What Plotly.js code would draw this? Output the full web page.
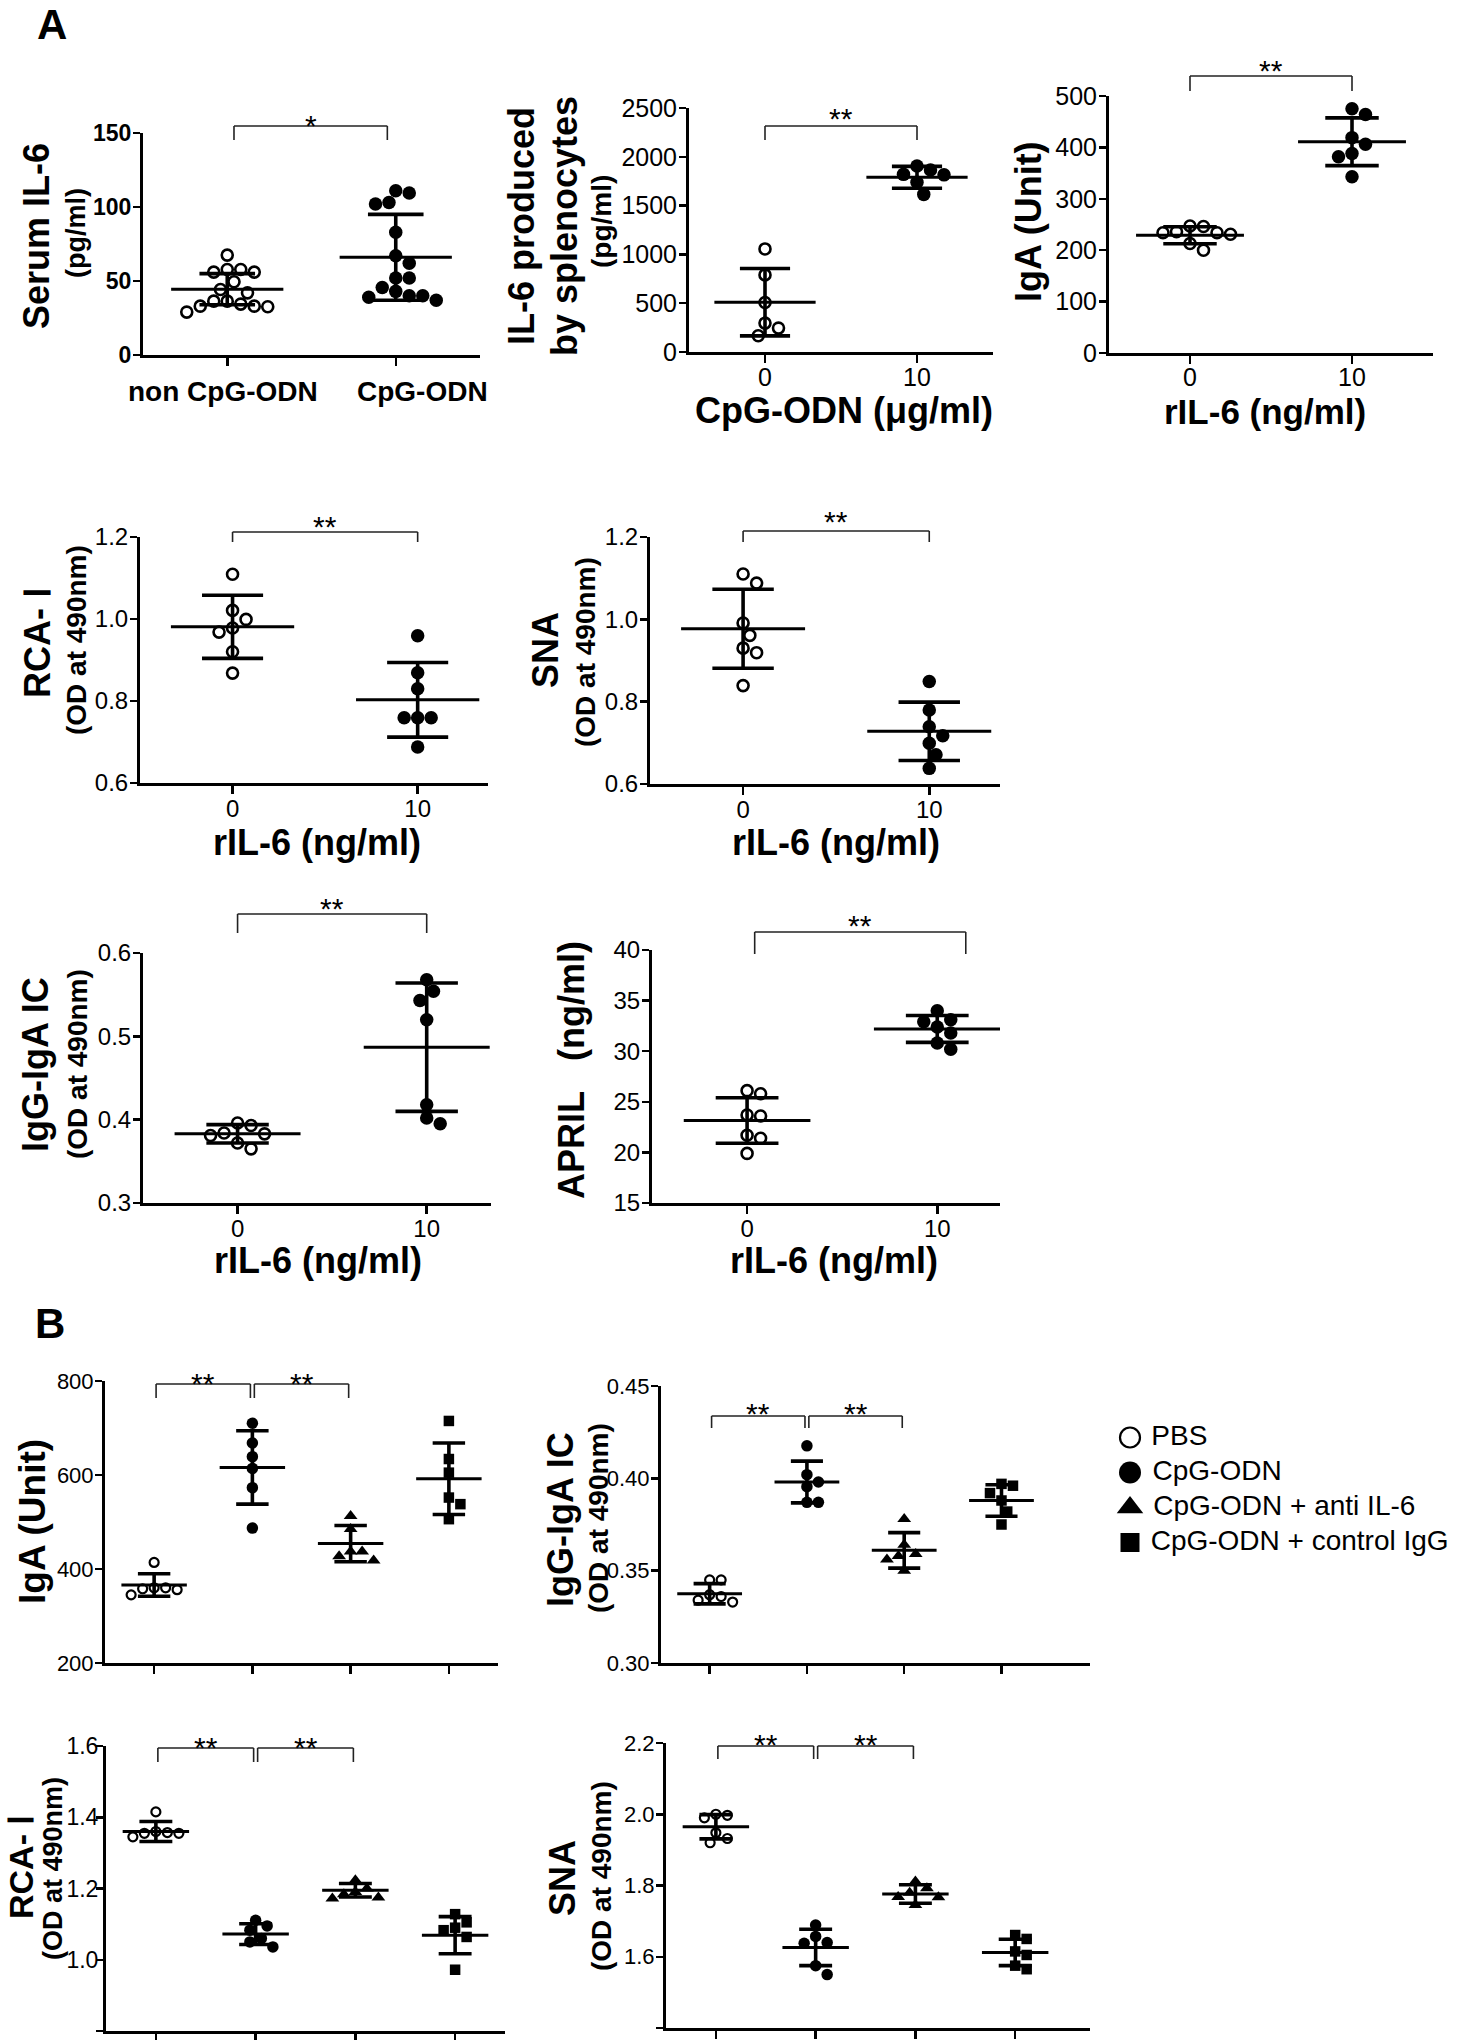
<!DOCTYPE html>
<html>
<head>
<meta charset="utf-8">
<script src="https://cdn.plot.ly/plotly-3.0.1.min.js"></script>
<style>html,body{margin:0;padding:0;background:#fff;}</style>
</head>
<body>
<div id="chart" style="width:1463px;height:2040px;"></div>
<script>
// ================= DATA =================
// Panel A1: Serum IL-6 (pg/ml)
const serumCats = ['non CpG-ODN', 'CpG-ODN'];
const serumNonCpG = [67.5, 57.8, 56, 56, 57.8, 49.5, 44.3, 42, 36.4, 34.4, 33, 29, 32.6, 33, 36.4];
const serumCpG = [109.5, 111, 102, 103, 83, 67, 62, 52, 52, 43, 45.6, 40, 37, 39, 40];
const serumMean = [44.5, 66];
const serumSD = [10.5, 29];
const serumBrackets = [[0, 1, '*']];

// Panel A2: IL-6 produced by splenocytes (pg/ml)
const cpgDoseCats = ['0', '10'];
const splenIL6_0 = [1056, 790, 507, 296, 245, 167];
const splenIL6_10 = [1905, 1865, 1820, 1815, 1740, 1615];
const splenMean = [510, 1790];
const splenSD = [345, 112];
const splenBrackets = [[0, 1, '**']];

// Panel A3: IgA (Unit)
const rilCats = ['0', '10'];
const igaA_0 = [247, 246, 234, 231, 236, 234, 213, 200];
const igaA_10 = [475, 464, 419, 406, 388, 382, 343];
const igaAMean = [229, 411];
const igaASD = [16.5, 46.5];
const igaABrackets = [[0, 1, '**']];

// Panel A4: RCA-I (OD at 490nm)
const rcaA_0 = [1.109, 1.021, 0.999, 0.978, 0.968, 0.920, 0.868];
const rcaA_10 = [0.959, 0.869, 0.830, 0.759, 0.759, 0.759, 0.688];
const rcaAMean = [0.981, 0.803];
const rcaASD = [0.077, 0.091];
const rcaABrackets = [[0, 1, '**']];

// Panel A5: SNA (OD at 490nm)
const snaA_0 = [1.110, 1.088, 0.991, 0.961, 0.930, 0.919, 0.839];
const snaA_10 = [0.849, 0.780, 0.739, 0.717, 0.699, 0.671, 0.638];
const snaAMean = [0.977, 0.728];
const snaASD = [0.096, 0.071];
const snaABrackets = [[0, 1, '**']];

// Panel A6: IgG-IgA IC (OD at 490nm)
const icA_0 = [0.393, 0.396, 0.381, 0.384, 0.383, 0.372, 0.365];
const icA_10 = [0.568, 0.554, 0.543, 0.520, 0.418, 0.402, 0.395];
const icAMean = [0.383, 0.487];
const icASD = [0.011, 0.077];
const icABrackets = [[0, 1, '**']];

// Panel A7: APRIL (ng/ml)
const april_0 = [26.1, 25.8, 23.6, 23.7, 21.7, 21.4, 19.9];
const april_10 = [34.0, 32.9, 33.1, 31.8, 32.4, 30.8, 30.2];
const aprilMean = [23.15, 32.2];
const aprilSD = [2.25, 1.33];
const aprilBrackets = [[0, 1, '**']];

// Panel B groups
const groupNames = ['PBS', 'CpG-ODN', 'CpG-ODN + anti IL-6', 'CpG-ODN + control IgG'];
const bBrackets = [[0, 1, '**'], [1, 2, '**']];

// B1: IgA (Unit)
const bIgaPBS = [414, 360, 358, 345, 356, 360];
const bIgaCpG = [710, 668, 639, 614, 573, 487];
const bIgaAnti = [513, 485, 437, 418, 427, 437];
const bIgaCtrl = [715, 634, 605, 552, 538, 506];
const bIgaMean = [366, 616, 454, 592];
const bIgaSD = [24, 78, 38.5, 76];

// B2: IgG-IgA IC (OD at 490nm)
const bIcPBS = [0.345, 0.345, 0.337, 0.333, 0.334, 0.336];
const bIcCpG = [0.4176, 0.402, 0.398, 0.3955, 0.387, 0.387];
const bIcAnti = [0.378, 0.364, 0.358, 0.359, 0.356, 0.350];
const bIcCtrl = [0.396, 0.397, 0.392, 0.388, 0.382, 0.375];
const bIcMean = [0.3375, 0.398, 0.361, 0.388];
const bIcSD = [0.0055, 0.0113, 0.0096, 0.0085];

// B3: RCA-I (OD at 490nm)
const bRcaPBS = [1.415, 1.360, 1.355, 1.345, 1.355, 1.357];
const bRcaCpG = [1.111, 1.095, 1.083, 1.060, 1.050, 1.036];
const bRcaAnti = [1.223, 1.200, 1.190, 1.184, 1.172, 1.175];
const bRcaCtrl = [1.128, 1.105, 1.090, 1.083, 1.064, 0.972];
const bRcaMean = [1.360, 1.072, 1.195, 1.069];
const bRcaSD = [0.028, 0.029, 0.019, 0.052];

// B4: SNA (OD at 490nm)
const bSnaPBS = [1.997, 2.000, 1.990, 1.948, 1.932, 1.920];
const bSnaCpG = [1.689, 1.657, 1.640, 1.638, 1.575, 1.550];
const bSnaAnti = [1.811, 1.792, 1.767, 1.768, 1.780, 1.745];
const bSnaCtrl = [1.661, 1.605, 1.615, 1.575, 1.565, 1.650];
const bSnaMean = [1.965, 1.626, 1.776, 1.612];
const bSnaSD = [0.034, 0.051, 0.026, 0.037];

// ================= STYLE / LAYOUT =================
const W = 1463, H = 2040;
const FONT = 'Liberation Sans, Arial, Helvetica, sans-serif';
const fx = px => px / W;
const fy = py => 1 - py / H;

const sym2 = ['circle-open', 'circle'];
const sym4 = ['circle-open', 'circle', 'triangle-up', 'square'];

const panels = [
  {box:[143,480,133,355], xr:[-0.5,1.5], yr:[0,150], dtick:50, fmt:'', cats:serumCats,
   groups:[serumNonCpG, serumCpG], mean:serumMean, sd:serumSD, br:serumBrackets, brPx:[126,140,125], brAdj:[0.04,-0.05],
   ytf:{size:23, weight:'bold'}, xtf:{size:28, weight:'bold'}, xstand:0, ystand:-3, big:true, syms:sym2,
   catAnnot:{yPx:392, shift:[-4, 27]}},
  {box:[689,993,108,352], xr:[-0.5,1.5], yr:[0,2500], dtick:500, fmt:'', cats:cpgDoseCats,
   groups:[splenIL6_0, splenIL6_10], mean:splenMean, sd:splenSD, br:splenBrackets, brPx:[126,140,118], brAdj:[0,0],
   ytf:{size:25}, xtf:{size:25}, xstand:-7, ystand:-3, big:true, syms:sym2},
  {box:[1109,1433,96,353], xr:[-0.5,1.5], yr:[0,500], dtick:100, fmt:'', cats:rilCats,
   groups:[igaA_0, igaA_10], mean:igaAMean, sd:igaASD, br:igaABrackets, brPx:[76,91,71], brAdj:[0,0],
   ytf:{size:25}, xtf:{size:25}, xstand:-8, ystand:-3, big:true, syms:sym2},
  {box:[140,488,537,783], xr:[-0.5,1.38], yr:[0.6,1.2], dtick:0.2, fmt:'.1f', cats:rilCats,
   groups:[rcaA_0, rcaA_10], mean:rcaAMean, sd:rcaASD, br:rcaABrackets, brPx:[532,542,526], brAdj:[0,0],
   ytf:{size:24}, xtf:{size:24}, xstand:-6, ystand:-3, big:true, syms:sym2},
  {box:[650,1000,537,784], xr:[-0.5,1.38], yr:[0.6,1.2], dtick:0.2, fmt:'.1f', cats:rilCats,
   groups:[snaA_0, snaA_10], mean:snaAMean, sd:snaASD, br:snaABrackets, brPx:[531,542,521], brAdj:[0,0],
   ytf:{size:24}, xtf:{size:24}, xstand:-6, ystand:-3, big:true, syms:sym2},
  {box:[143,491,953,1203], xr:[-0.5,1.34], yr:[0.3,0.6], dtick:0.1, fmt:'.1f', cats:rilCats,
   groups:[icA_0, icA_10], mean:icAMean, sd:icASD, br:icABrackets, brPx:[914,933,908], brAdj:[0,0],
   ytf:{size:24}, xtf:{size:24}, xstand:-6, ystand:-3, big:true, syms:sym2},
  {box:[652,1000,950,1203], xr:[-0.5,1.33], yr:[15,40], dtick:5, fmt:'', cats:rilCats,
   groups:[april_0, april_10], mean:aprilMean, sd:aprilSD, br:aprilBrackets, brPx:[932,954,926], brAdj:[0.04,0.15],
   ytf:{size:24}, xtf:{size:24}, xstand:-6, ystand:-3, big:true, syms:sym2},
  {box:[105,498,1381,1663], xr:[-0.5,3.5], yr:[200,800], dtick:200, fmt:'', cats:['','','',''],
   groups:[bIgaPBS, bIgaCpG, bIgaAnti, bIgaCtrl], mean:bIgaMean, sd:bIgaSD, br:bBrackets, brPx:[1384,1398,1383], brAdj:[0.02,-0.02],
   ytf:{size:22}, xtf:{size:22}, xstand:0, ystand:-3, big:false, syms:sym4},
  {box:[661,1090,1386,1663], xr:[-0.5,3.91], yr:[0.30,0.45], dtick:0.05, fmt:'.2f', cats:['','','',''],
   groups:[bIcPBS, bIcCpG, bIcAnti, bIcCtrl], mean:bIcMean, sd:bIcSD, br:bBrackets, brPx:[1416,1428,1413], brAdj:[0.02,-0.02],
   ytf:{size:22}, xtf:{size:22}, xstand:0, ystand:-3, big:false, syms:sym4},
  {box:[106,505,1746,2031], xr:[-0.5,3.5], yr:[0.8,1.6], dtick:0.2, fmt:'.1f', cats:['','','',''],
   groups:[bRcaPBS, bRcaCpG, bRcaAnti, bRcaCtrl], mean:bRcaMean, sd:bRcaSD, br:bBrackets, brPx:[1748,1762,1747], brAdj:[0.02,-0.02],
   ytf:{size:23}, xtf:{size:22}, xstand:0, ystand:-7, big:false, syms:sym4},
  {box:[666,1090,1743,2028], xr:[-0.5,3.75], yr:[1.4,2.2], dtick:0.2, fmt:'.1f', cats:['','','',''],
   groups:[bSnaPBS, bSnaCpG, bSnaAnti, bSnaCtrl], mean:bSnaMean, sd:bSnaSD, br:bBrackets, brPx:[1746,1759,1744], brAdj:[0.02,-0.02],
   ytf:{size:22}, xtf:{size:22}, xstand:0, ystand:-3, big:false, syms:sym4}
];

function markerStyle(sym, big) {
  if (sym === 'circle-open') return {symbol:sym, size: big ? 11 : 9, color:'#000', line:{width: big ? 2.6 : 2.2, color:'#000'}};
  if (sym === 'circle') return {symbol:sym, size: big ? 13.5 : 11.5, color:'#000', line:{width:0}};
  if (sym === 'triangle-up') return {symbol:sym, size: 12, color:'#000', line:{width:0}};
  return {symbol:sym, size: 10.5, color:'#000', line:{width:0}};
}

// deterministic beeswarm layout of points within a column (pixel space)
function swarmOffsets(vals, pxPerUnit, pxPerCat, diam) {
  const order = vals.map((v, i) => i).sort((a, b) => vals[b] - vals[a]);
  const placed = [];
  const off = vals.map(() => 0);
  const step = diam * 0.5;
  order.forEach(i => {
    const y = vals[i] * pxPerUnit;
    for (let k = 0; k < 80; k++) {
      const c = k === 0 ? 0 : (k % 2 ? 1 : -1) * Math.ceil(k / 2) * step;
      if (placed.every(p => Math.hypot(p[0] - c, p[1] - y) >= diam * 0.97)) {
        off[i] = c; placed.push([c, y]); break;
      }
    }
  });
  return off.map(o => o / pxPerCat);
}

const traces = [];
const shapes = [];
const annotations = [];
const layout = {
  width: W, height: H,
  margin: {l:0, r:0, t:0, b:0},
  paper_bgcolor: '#fff', plot_bgcolor: 'rgba(0,0,0,0)',
  showlegend: false,
  font: {family: FONT, color: '#000'}
};

const MEAN_HW = 0.333, CAP_HW = 0.165;

panels.forEach((p, i) => {
  const n = i + 1;
  const sfx = n === 1 ? '' : String(n);
  const xa = 'x' + sfx, ya = 'y' + sfx;
  const b = p.box;
  const hasLabels = p.cats.some(c => c !== '') && !p.catAnnot;
  layout['xaxis' + sfx] = {
    domain: [fx(b[0]), fx(b[1])], range: p.xr, anchor: ya,
    tickmode: 'array', tickvals: p.cats.map((c, j) => j), ticktext: p.cats,
    showticklabels: hasLabels, ticklabelstandoff: p.xstand, tickangle: 0,
    showline: true, linewidth: 3, linecolor: '#000', mirror: false,
    ticks: 'outside', ticklen: 8, tickwidth: 2.5, tickcolor: '#000',
    showgrid: false, zeroline: false, fixedrange: true,
    tickfont: Object.assign({family: FONT, color: '#000'}, p.xtf)
  };
  layout['yaxis' + sfx] = {
    domain: [fy(b[3]), fy(b[2])], range: p.yr, anchor: xa,
    tick0: p.yr[0], dtick: p.dtick, tickformat: p.fmt, ticklabelstandoff: p.ystand,
    showline: true, linewidth: 3, linecolor: '#000',
    ticks: 'outside', ticklen: 7, tickwidth: 2.5, tickcolor: '#000',
    showgrid: false, zeroline: false, fixedrange: true,
    tickfont: Object.assign({family: FONT, color: '#000'}, p.ytf)
  };
  // category labels drawn as annotations where they sit off-centre from the ticks
  if (p.catAnnot) {
    p.cats.forEach((c, j) => {
      annotations.push({xref: xa, yref:'paper', x: j, y: fy(p.catAnnot.yPx), xshift: p.catAnnot.shift[j],
        text: c, showarrow:false, xanchor:'center', yanchor:'middle',
        font: Object.assign({family: FONT, color:'#000'}, p.xtf)});
    });
  }
  const pxPerUnit = (b[3] - b[2]) / (p.yr[1] - p.yr[0]);
  const pxPerCat = (b[1] - b[0]) / (p.xr[1] - p.xr[0]);
  const diam = p.big ? 13.5 : 11.5;

  // mean and SD lines
  const mx = [], my = [], sx = [], sy = [];
  p.mean.forEach((m, g) => {
    const s = p.sd[g];
    mx.push(g - MEAN_HW, g + MEAN_HW, null); my.push(m, m, null);
    sx.push(g, g, null); sy.push(m - s, m + s, null);
    sx.push(g - CAP_HW, g + CAP_HW, null); sy.push(m + s, m + s, null);
    sx.push(g - CAP_HW, g + CAP_HW, null); sy.push(m - s, m - s, null);
  });
  traces.push({type:'scatter', mode:'lines', x: mx, y: my, xaxis: xa, yaxis: ya,
    line:{color:'#000', width:3}, hoverinfo:'skip', showlegend:false});
  traces.push({type:'scatter', mode:'lines', x: sx, y: sy, xaxis: xa, yaxis: ya,
    line:{color:'#000', width:3.6}, hoverinfo:'skip', showlegend:false});

  // points
  p.groups.forEach((vals, g) => {
    const offs = swarmOffsets(vals, pxPerUnit, pxPerCat, diam);
    traces.push({type:'scatter', mode:'markers', x: offs.map(o => g + o), y: vals,
      xaxis: xa, yaxis: ya, cliponaxis: false,
      marker: markerStyle(p.syms[g], p.big), hoverinfo:'skip', showlegend:false});
  });

  // significance brackets
  p.br.forEach(([a, c, lab]) => {
    const x0 = a + p.brAdj[0], x1 = c + p.brAdj[1];
    const yTop = fy(p.brPx[0]), yBot = fy(p.brPx[1]);
    const ln = {color:'#222', width:1.6};
    shapes.push({type:'line', xref: xa, yref:'paper', x0: x0, x1: x1, y0: yTop, y1: yTop, line: ln, layer:'above'});
    shapes.push({type:'line', xref: xa, yref:'paper', x0: x0, x1: x0, y0: yTop, y1: yBot, line: ln, layer:'above'});
    shapes.push({type:'line', xref: xa, yref:'paper', x0: x1, x1: x1, y0: yTop, y1: yBot, line: ln, layer:'above'});
    annotations.push({xref: xa, yref:'paper', x: (x0 + x1) / 2, y: fy(p.brPx[2]), text: lab,
      showarrow:false, xanchor:'center', yanchor:'middle', font:{family: FONT, size: 30, color:'#000'}});
  });
});

// legend key (panel B) as its own small subplot
const kn = panels.length + 1;
layout['xaxis' + kn] = {domain:[fx(1130), fx(1460)], range:[0, 1], visible:false, fixedrange:true, anchor:'y' + kn};
layout['yaxis' + kn] = {domain:[fy(1560), fy(1420)], range:[3.5, -0.5], visible:false, fixedrange:true, anchor:'x' + kn};
groupNames.forEach((name, g) => {
  const ms = {circle:{symbol:'circle', size:22, color:'#000', line:{width:0}},
              'circle-open':{symbol:'circle-open', size:20, color:'#000', line:{width:2.2}},
              'triangle-up':{symbol:'triangle-up', size:23, color:'#000', line:{width:0}},
              square:{symbol:'square', size:19, color:'#000', line:{width:0}}}[sym4[g]];
  traces.push({type:'scatter', mode:'markers+text', x:[0], y:[g], text:['\u00a0' + name],
    textposition:'middle right', textfont:{family: FONT, size:28, color:'#000'},
    xaxis:'x' + kn, yaxis:'y' + kn, cliponaxis:false, marker: ms, hoverinfo:'skip', showlegend:false, name: name});
});

// axis titles and panel letters
const titles = [
  ['<b>A</b>', 52, 25, 42, 0],
  ['<b>Serum IL-6</b>', 36, 236, 36, -90],
  ['<b>(pg/ml)</b>', 76, 233, 27, -90],
  ['<b>IL-6 produced</b>', 521, 226, 36, -90],
  ['<b>by splenocytes</b>', 564, 226, 36, -90],
  ['<b>(pg/ml)</b>', 601, 222, 28, -90],
  ['<b>CpG-ODN (μg/ml)</b>', 844, 411, 36, 0],
  ['<b>IgA (Unit)</b>', 1028, 222, 36, -90],
  ['<b>rIL-6 (ng/ml)</b>', 1265, 412, 35, 0],
  ['<b>RCA- Ⅰ</b>', 37, 643, 36, -90],
  ['<b>(OD at 490nm)</b>', 76, 640, 28, -90],
  ['<b>rIL-6 (ng/ml)</b>', 317, 842, 36, 0],
  ['<b>SNA</b>', 545, 650, 36, -90],
  ['<b>(OD at 490nm)</b>', 585, 652, 28, -90],
  ['<b>rIL-6 (ng/ml)</b>', 836, 842, 36, 0],
  ['<b>IgG-IgA IC</b>', 35, 1065, 36, -90],
  ['<b>(OD at 490nm)</b>', 77, 1064, 28, -90],
  ['<b>rIL-6 (ng/ml)</b>', 318, 1260, 36, 0],
  ['<b>APRIL\u00a0\u00a0\u00a0(ng/ml)</b>', 571, 1070, 36, -90],
  ['<b>rIL-6 (ng/ml)</b>', 834, 1260, 36, 0],
  ['<b>B</b>', 50, 1323, 42, 0],
  ['<b>IgA (Unit)</b>', 32, 1522, 37, -90],
  ['<b>IgG-IgA IC</b>', 560, 1520, 36, -90],
  ['<b>(OD at 490nm)</b>', 598, 1518, 28, -90],
  ['<b>RCA- Ⅰ</b>', 21, 1867, 34, -90],
  ['<b>(OD at 490nm)</b>', 53, 1868, 27, -90],
  ['<b>SNA</b>', 562, 1878, 36, -90],
  ['<b>(OD at 490nm)</b>', 601, 1876, 28, -90]
];
titles.forEach(([t, x, y, s, ang]) => {
  annotations.push({xref:'paper', yref:'paper', x: fx(x), y: fy(y), text: t, textangle: ang,
    showarrow:false, xanchor:'center', yanchor:'middle', font:{family: FONT, size: s, color:'#000'}});
});

layout.shapes = shapes;
layout.annotations = annotations;

Plotly.newPlot('chart', traces, layout, {displayModeBar:false, staticPlot:true});
</script>
</body>
</html>
